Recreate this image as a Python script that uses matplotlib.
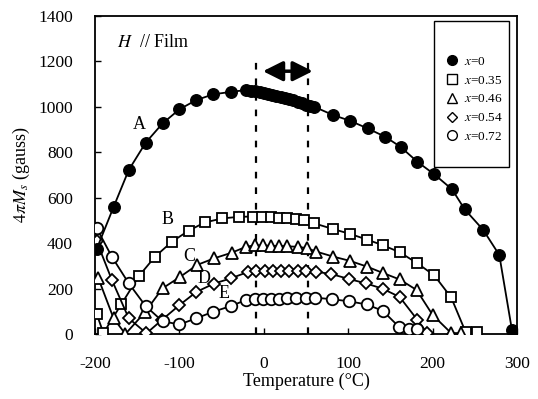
import matplotlib
matplotlib.use("Agg")
import matplotlib.pyplot as plt
from matplotlib.patches import Rectangle
from matplotlib.lines import Line2D

plt.rcParams['font.family'] = ['Liberation Serif', 'DejaVu Serif']
plt.rcParams['mathtext.fontset'] = 'stix'

# ---- data (temperature in deg C, 4piMs in gauss) ----
tA = [-198, -178, -160, -140, -120, -100, -80, -60, -39, -21,
      -15, -10, -5, 0, 5, 10, 15, 20, 25, 30, 35, 40, 45, 50, 55,
      60, 82, 102, 123, 144, 162, 182, 202, 223, 238, 260, 279, 294]
mA = [374, 559, 722, 842, 927, 989, 1030, 1055, 1066, 1074,
      1071, 1068, 1065, 1062, 1058, 1054, 1050, 1045, 1040, 1035, 1029, 1023, 1017, 1010, 1004,
      1000, 964, 939, 905, 868, 824, 758, 703, 637, 549, 458, 348, 18]

tB = [-198, -190, -169, -148, -129, -109, -89, -70, -49, -29,
      -13, -2, 9, 18, 28, 38, 48, 60, 82, 102, 122, 141, 161, 182, 202, 222, 239, 253]
mB = [88, 4, 130, 255, 340, 406, 455, 491, 509, 516,
      517, 516, 514, 512, 509, 505, 500, 487, 462, 441, 416, 391, 360, 311, 258, 161, 10, 10]

tC = [-196, -178, -164, -141, -120, -99, -79, -59, -38,
      -21, -11, -1, 9, 18, 28, 40, 51, 62, 82, 102, 122, 141, 161, 181, 200, 222, 234]
mC = [245, 69, 0, 95, 201, 252, 304, 333, 358,
      384, 390, 390, 388, 388, 386, 384, 378, 363, 341, 322, 297, 269, 240, 194, 84, 4, 4]

tD = [-198, -180, -160, -139, -121, -100, -80, -59, -39,
      -19, -9, 1, 11, 20, 30, 40, 50, 62, 80, 101, 121, 141, 161, 182, 193]
mD = [408, 238, 69, 3, 61, 127, 185, 222, 245,
      273, 277, 277, 277, 277, 277, 277, 277, 274, 264, 242, 223, 199, 163, 62, 6]

tE = [-198, -180, -160, -140, -120, -100, -80, -60, -39,
      -21, -11, -1, 9, 18, 28, 38, 50, 61, 81, 101, 122, 141, 160, 172, 182]
mE = [466, 340, 223, 123, 56, 42, 69, 98, 123,
      150, 154, 155, 155, 156, 157, 158, 159, 160, 153, 144, 130, 102, 32, 22, 22]

series_labels = [r'$x$=0', r'$x$=0.35', r'$x$=0.46', r'$x$=0.54', r'$x$=0.72']
curve_letters = ['A', 'B', 'C', 'D', 'E']
letter_pos = [(-148, 924), (-114, 506), (-88, 339), (-71, 246), (-47, 180)]
dash_T = [-9, 52]
arrow_T = [-1, 58]
arrow_M = 1157

xticks = [-200, -100, 0, 100, 200, 300]
yticks = [0, 200, 400, 600, 800, 1000, 1200, 1400]

# ---- figure ----
fig = plt.figure(figsize=(5.38, 3.99), dpi=100)
ax = fig.add_axes([95/538, 1-334/399, 422/538, 318/399])

ms = 8.3
mew = 1.3
lw = 1.3
ax.plot(tA, mA, '-', color='black', lw=lw, marker='o', ms=ms, mfc='black', mec='black', zorder=5)
ax.plot(tB, mB, '-', color='black', lw=lw, marker='s', ms=ms*0.95, mfc='white', mec='black', mew=mew, zorder=4)
ax.plot(tC, mC, '-', color='black', lw=lw, marker='^', ms=ms*1.05, mfc='white', mec='black', mew=mew, zorder=4)
ax.plot(tD, mD, '-', color='black', lw=lw, marker='D', ms=ms*0.7, mfc='white', mec='black', mew=mew, zorder=4)
ax.plot(tE, mE, '-', color='black', lw=lw, marker='o', ms=ms, mfc='white', mec='black', mew=mew, zorder=4)

for x in dash_T:
    ax.plot([x, x], [0, 1205], color='black', lw=1.6, ls=(0, (3, 4)), zorder=2)

ax.annotate('', xy=(arrow_T[1], arrow_M), xytext=(arrow_T[0], arrow_M),
            arrowprops=dict(arrowstyle='<|-|>', mutation_scale=30, lw=2.5,
                            color='black', shrinkA=0, shrinkB=0))

for letter, (x, y) in zip(curve_letters, letter_pos):
    ax.text(x, y, letter, fontsize=13, ha='center', va='center', zorder=6)

ax.text(0.052, 0.918, r'$H$  // Film', transform=ax.transAxes, fontsize=13,
        ha='left', va='center')

ax.set_xlim(-200, 300)
ax.set_ylim(0, 1400)
ax.set_xticks(xticks)
ax.set_yticks(yticks)
ax.set_xticklabels([str(v) for v in xticks])
ax.set_yticklabels([str(v) for v in yticks])
ax.tick_params(direction='in', length=4, width=1, labelsize=12.5, pad=16)
for s in ax.spines.values():
    s.set_linewidth(1.3)

ax.set_xlabel('Temperature (°C)', fontsize=13, labelpad=0)
ax.set_ylabel(r'$4\pi M_s$ (gauss)', fontsize=13, labelpad=4)

# legend
handles = [
    Line2D([], [], ls='none', marker='o', ms=7, mfc='black', mec='black'),
    Line2D([], [], ls='none', marker='s', ms=6.5, mfc='white', mec='black', mew=1),
    Line2D([], [], ls='none', marker='^', ms=7, mfc='white', mec='black', mew=1),
    Line2D([], [], ls='none', marker='D', ms=5, mfc='white', mec='black', mew=1),
    Line2D([], [], ls='none', marker='o', ms=7, mfc='white', mec='black', mew=1),
]
ax.legend(handles, series_labels, loc='center', bbox_to_anchor=(0.899, 0.738),
          frameon=False, fontsize=9.5, handlelength=0.9, handletextpad=0.4,
          labelspacing=0.5, borderpad=0)
ax.add_patch(Rectangle((0.803, 0.525), 0.178, 0.459, transform=ax.transAxes,
                       fill=True, facecolor='white', edgecolor='black', lw=1.0, zorder=7))
ax.get_legend().set_zorder(8)

fig.savefig('out.png', dpi=100)
